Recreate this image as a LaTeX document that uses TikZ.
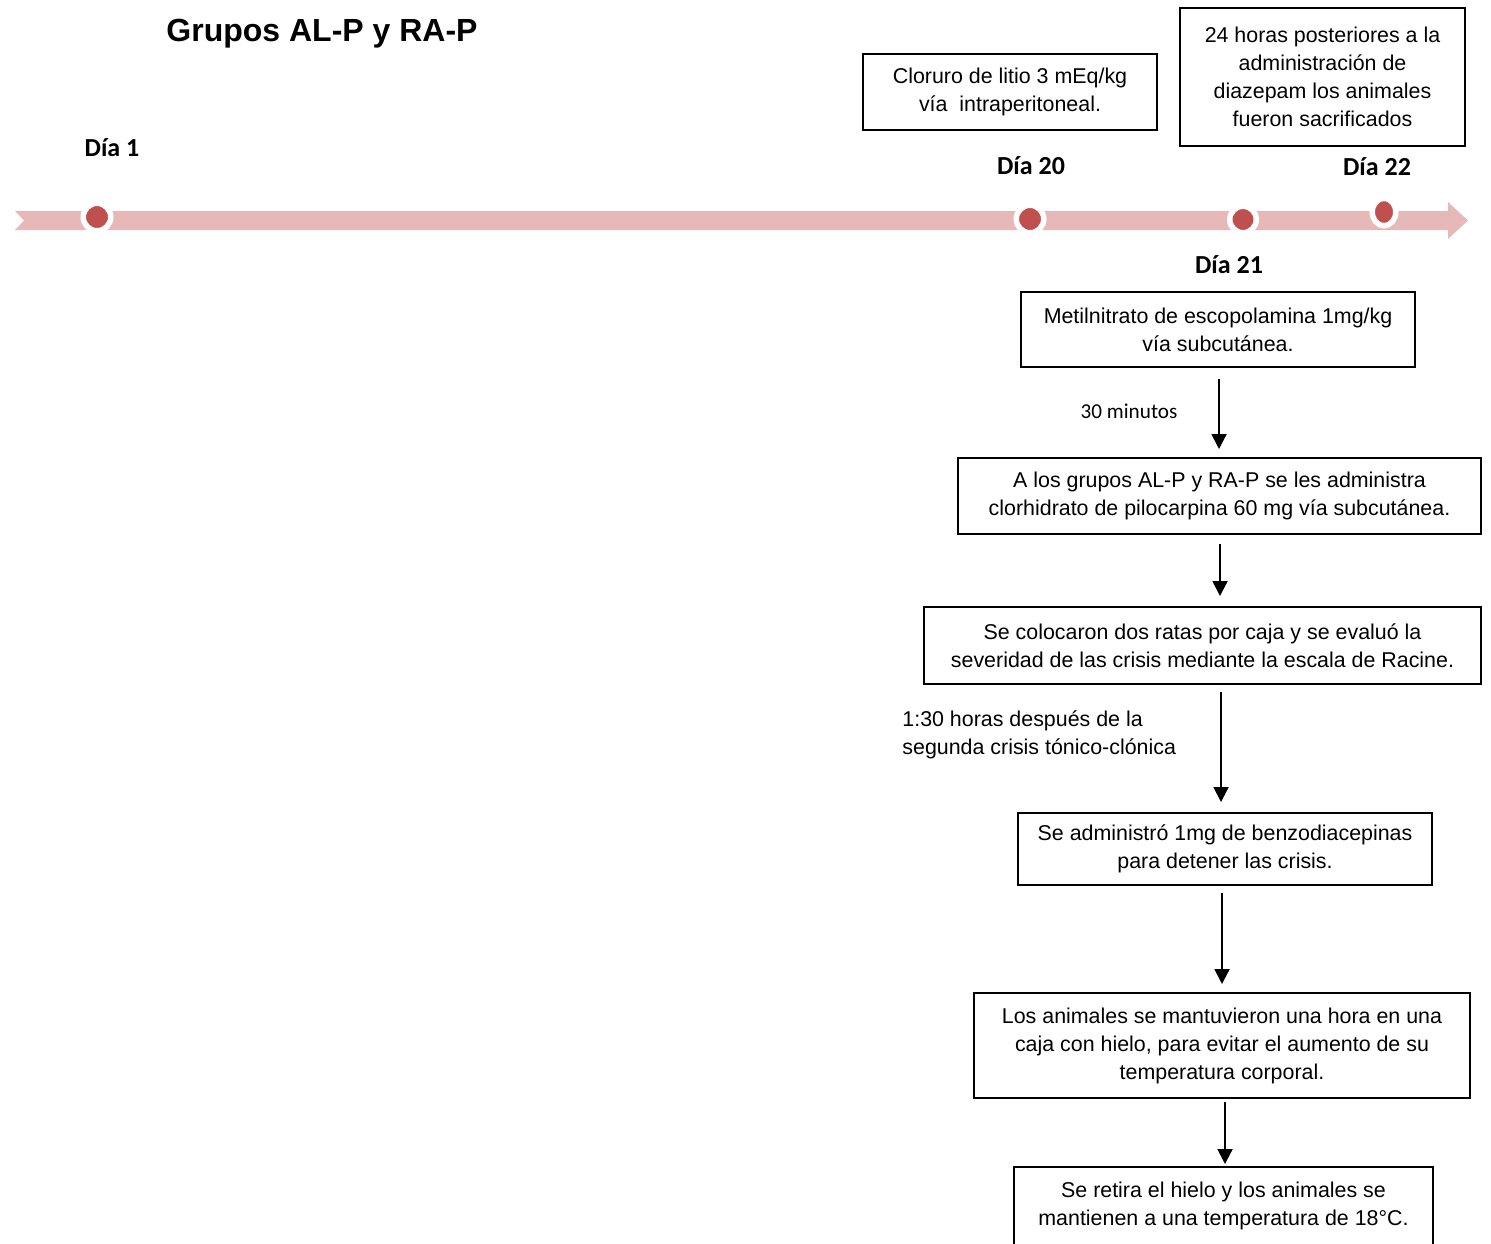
\documentclass[tikz,border=0pt]{standalone}
\usepackage{fontspec}
\setmainfont{Liberation Sans}
\newfontfamily\calibri{Carlito}
\usetikzlibrary{arrows.meta,shapes.geometric}
\definecolor{bandpink}{HTML}{E6B9B8}
\definecolor{dotred}{HTML}{C0504D}
\begin{document}
\begin{tikzpicture}[x=0.5pt, y=-0.5pt,
                box/.style={draw, line width=1pt, inner sep=0pt, align=center,
                    font=\fontsize{10.7}{14}\selectfont},
                dot/.style={circle, fill=dotred, draw=white, line width=2.75pt, inner sep=0pt, minimum size=13.75pt},
                dia/.style={font=\calibri\bfseries\fontsize{13}{15}\selectfont},
                flow/.style={-{Triangle[length=7.5pt, width=7.5pt]}, line width=1pt}]
                \useasboundingbox (0,0) rectangle (1491,1243);

                \node[font=\bfseries\fontsize{16}{19}\selectfont] (title) at (322,34) {Grupos AL-P y RA-P};

                % timeline
                \fill[bandpink] (15,211) -- (1448,211) -- (1448,202) -- (1468,220.5) -- (1448,239)
                    -- (1448,230) -- (15,230) -- (24,220.5) -- cycle;
                \node[dot] (D1) at (97,217) {};
                \node[dot] (D20) at (1030,219) {};
                \node[dot, minimum size=13.25pt] (D21) at (1243,219.5) {};
                \node[dot, ellipse, minimum width=11.75pt, minimum height=13.75pt] (D22) at (1384,212) {};

                \node[dia] (L1) at (112,148) {Día 1};
                \node[dia] (L20) at (1031,166) {Día 20};
                \node[dia] (L21) at (1229,265) {Día 21};
                \node[dia] (L22) at (1377,167) {Día 22};

                \node[box, minimum width=147pt, minimum height=38pt] (litio) at (1010,92)
                    {Cloruro de litio 3 mEq/kg\\vía\ \ intraperitoneal.};
                \node[box, minimum width=142.5pt, minimum height=69pt] (sacrif) at (1322.5,77)
                    {24 horas posteriores a la\\administración de\\diazepam los animales\\fueron sacrificados};

                % dia 21
                \node[box, minimum width=197pt, minimum height=37.5pt] (metil) at (1218,329.5)
                    {Metilnitrato de escopolamina 1mg/kg\\vía subcutánea.};
                \node[box, minimum width=261.5pt, minimum height=38pt] (pilo) at (1219.5,496)
                    {A los grupos AL-P y RA-P se les administra\\clorhidrato de pilocarpina 60 mg vía subcutánea.};
                \node[box, minimum width=278.5pt, minimum height=38.5pt] (racine) at (1202.5,645.5)
                    {Se colocaron dos ratas por caja y se evaluó la\\severidad de las crisis mediante la escala de Racine.};
                \node[box, minimum width=207pt, minimum height=36pt] (benzo) at (1225,849)
                    {Se administró 1mg de benzodiacepinas\\para detener las crisis.};
                \node[box, minimum width=248pt, minimum height=52.5pt] (hielo) at (1222,1045.5)
                    {Los animales se mantuvieron una hora en una\\caja con hielo, para evitar el aumento de su\\temperatura corporal.};
                \node[box, minimum width=209.5pt, minimum height=39pt] (temp) at (1223.5,1206)
                    {Se retira el hielo y los animales se\\mantienen a una temperatura de 18\textdegree C.};

                \coordinate (a1) at (1219,0);
                \coordinate (a2) at (1220,0);
                \coordinate (a3) at (1221,0);
                \coordinate (a4) at (1222,0);
                \coordinate (a5) at (1225,0);

                \draw[flow, shorten <=5.5pt, shorten >=4pt] (metil.south -| a1) -- (pilo.north -| a1);
                \draw[flow, shorten <=4.5pt, shorten >=5pt] (pilo.south -| a2) -- (racine.north -| a2);
                \draw[flow, shorten <=3.5pt, shorten >=5pt] (racine.south -| a3) -- (benzo.north -| a3);
                \draw[flow, shorten <=3.5pt, shorten >=4pt] (benzo.south -| a4) -- (hielo.north -| a4);
                \draw[flow, shorten <=1.5pt, shorten >=1pt] (hielo.south -| a5) -- (temp.north -| a5);

                \node[font=\calibri\fontsize{10.6}{13}\selectfont] (t30) at (1129,411) {30 minutos};
                \node[anchor=west, align=left, inner sep=0pt, font=\fontsize{10.7}{14}\selectfont] (t130) at (902,735)
                    {1:30 horas después de la\\segunda crisis tónico-clónica};
            \end{tikzpicture}
\end{document}
